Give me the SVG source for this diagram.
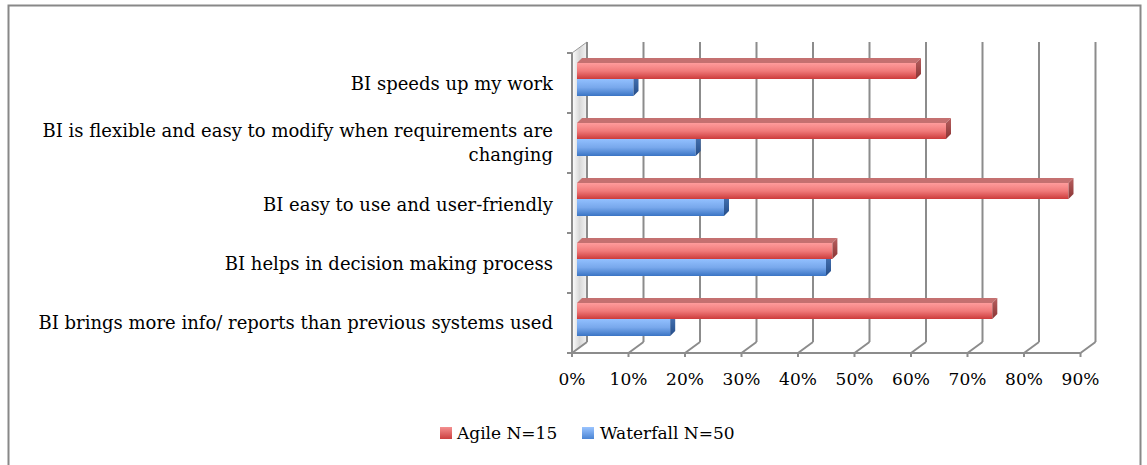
<svg xmlns="http://www.w3.org/2000/svg" width="1147" height="465" viewBox="0 0 1147 465">
<defs>
<linearGradient id="redF" x1="0" y1="0" x2="0" y2="1"><stop offset="0" stop-color="#ff9c9c"/><stop offset="0.5" stop-color="#f07a7a"/><stop offset="1" stop-color="#cc3b3b"/></linearGradient>
<linearGradient id="blueF" x1="0" y1="0" x2="0" y2="1"><stop offset="0" stop-color="#92c0ff"/><stop offset="0.5" stop-color="#78a8ec"/><stop offset="1" stop-color="#3a74c4"/></linearGradient>
<linearGradient id="redS" x1="0" y1="0" x2="0" y2="1"><stop offset="0" stop-color="#b86060"/><stop offset="1" stop-color="#8a3434"/></linearGradient>
<linearGradient id="blueS" x1="0" y1="0" x2="0" y2="1"><stop offset="0" stop-color="#4a78b8"/><stop offset="1" stop-color="#244c88"/></linearGradient>
<linearGradient id="wall" x1="0" y1="0" x2="1" y2="0"><stop offset="0" stop-color="#ffffff"/><stop offset="0.5" stop-color="#d8d8d8"/><stop offset="1" stop-color="#f4f4f4"/></linearGradient>
<linearGradient id="legR" x1="0" y1="0" x2="0" y2="1"><stop offset="0" stop-color="#f49090"/><stop offset="1" stop-color="#cc4040"/></linearGradient>
<linearGradient id="legB" x1="0" y1="0" x2="0" y2="1"><stop offset="0" stop-color="#9ac4ff"/><stop offset="1" stop-color="#4a84d4"/></linearGradient>
</defs>
<style>
.grid{stroke:#8c8c8c;stroke-width:2;fill:none}
.lbl{font-family:"DejaVu Serif","Liberation Serif",serif;font-size:17px;fill:#000}
.cat{text-anchor:end;font-size:18px}
.ax{text-anchor:middle}
.rf{fill:url(#redF)}
.rt{fill:#c47070}
.rs{fill:url(#redS)}
.bf{fill:url(#blueF)}
.bs{fill:url(#blueS)}
</style>
<rect x="0" y="0" width="1147" height="465" fill="#ffffff"/>
<rect x="8.5" y="5.5" width="1132" height="470" fill="none" stroke="#888888" stroke-width="2"/>
<g id="axes">
<polygon points="572,53 587,42 587,342 572,353" fill="url(#wall)" stroke="#9a9a9a" stroke-width="1"/>
<path class="grid" d="M587,42V342M643.5,42V342M700,42V342M756.5,42V342M813,42V342M869.5,42V342M926,42V342M982.5,42V342M1039,42V342M1095.5,42V342"/>
<path class="grid" d="M572,353L587,342M628.5,353L643.5,342M685,353L700,342M741.5,353L756.5,342M798,353L813,342M854.5,353L869.5,342M911,353L926,342M967.5,353L982.5,342M1024,353L1039,342M1080.5,353L1095.5,342"/>
<path class="grid" d="M572,53V353H1080.5M567,53H572M567,113H572M567,173H572M567,233H572M567,293H572M567,353H572M572,353V357M628.5,353V357M685,353V357M741.5,353V357M798,353V357M854.5,353V357M911,353V357M967.5,353V357M1024,353V357M1080.5,353V357"/>
</g>
<g id="bars">
<g id="cat1">
<rect class="bf" x="577" y="79" width="56.5" height="17"/>
<polygon class="bs" points="633.5,79 638.5,74 638.5,91 633.5,96"/>
<polygon class="rt" points="577,63 582,58 921,58 916,63"/>
<rect class="rf" x="577" y="63" width="339" height="16"/>
<polygon class="rs" points="916,63 921,58 921,74 916,79"/>
</g>
<g id="cat2">
<rect class="bf" x="577" y="139" width="118.7" height="17"/>
<polygon class="bs" points="695.7,139 700.7,134 700.7,151 695.7,156"/>
<polygon class="rt" points="577,123 582,118 951,118 946,123"/>
<rect class="rf" x="577" y="123" width="369" height="16"/>
<polygon class="rs" points="946,123 951,118 951,134 946,139"/>
</g>
<g id="cat3">
<rect class="bf" x="577" y="199" width="147" height="17"/>
<polygon class="bs" points="724,199 729,194 729,211 724,216"/>
<polygon class="rt" points="577,183 582,178 1073.5,178 1068.5,183"/>
<rect class="rf" x="577" y="183" width="491.5" height="16"/>
<polygon class="rs" points="1068.5,183 1073.5,178 1073.5,194 1068.5,199"/>
</g>
<g id="cat4">
<rect class="bf" x="577" y="259" width="249" height="17"/>
<polygon class="bs" points="826,259 831,254 831,271 826,276"/>
<polygon class="rt" points="577,243 582,238 837.4,238 832.4,243"/>
<rect class="rf" x="577" y="243" width="255.4" height="16"/>
<polygon class="rs" points="832.4,243 837.4,238 837.4,254 832.4,259"/>
</g>
<g id="cat5">
<rect class="bf" x="577" y="319" width="93.2" height="17"/>
<polygon class="bs" points="670.2,319 675.2,314 675.2,331 670.2,336"/>
<polygon class="rt" points="577,303 582,298 997.3,298 992.3,303"/>
<rect class="rf" x="577" y="303" width="415.3" height="16"/>
<polygon class="rs" points="992.3,303 997.3,298 997.3,314 992.3,319"/>
</g>
</g>
<g id="labels">
<text class="lbl cat" x="553" y="90">BI speeds up my work</text>
<text class="lbl cat" x="553" y="137">BI is flexible and easy to modify when requirements are</text>
<text class="lbl cat" x="553" y="161">changing</text>
<text class="lbl cat" x="553" y="211">BI easy to use and user-friendly</text>
<text class="lbl cat" x="553" y="270">BI helps in decision making process</text>
<text class="lbl cat" x="553" y="329">BI brings more info/ reports than previous systems used</text>
</g>
<g id="xaxis">
<text class="lbl ax" x="572" y="385">0%</text>
<text class="lbl ax" x="628.5" y="385">10%</text>
<text class="lbl ax" x="685" y="385">20%</text>
<text class="lbl ax" x="741.5" y="385">30%</text>
<text class="lbl ax" x="798" y="385">40%</text>
<text class="lbl ax" x="854.5" y="385">50%</text>
<text class="lbl ax" x="911" y="385">60%</text>
<text class="lbl ax" x="967.5" y="385">70%</text>
<text class="lbl ax" x="1024" y="385">80%</text>
<text class="lbl ax" x="1080.5" y="385">90%</text>
</g>
<g id="legend">
<rect x="440" y="427" width="12" height="12" fill="url(#legR)"/>
<text class="lbl" x="457" y="439">Agile N=15</text>
<rect x="582" y="427" width="12" height="12" fill="url(#legB)"/>
<text class="lbl" x="600" y="439">Waterfall N=50</text>
</g>
</svg>
